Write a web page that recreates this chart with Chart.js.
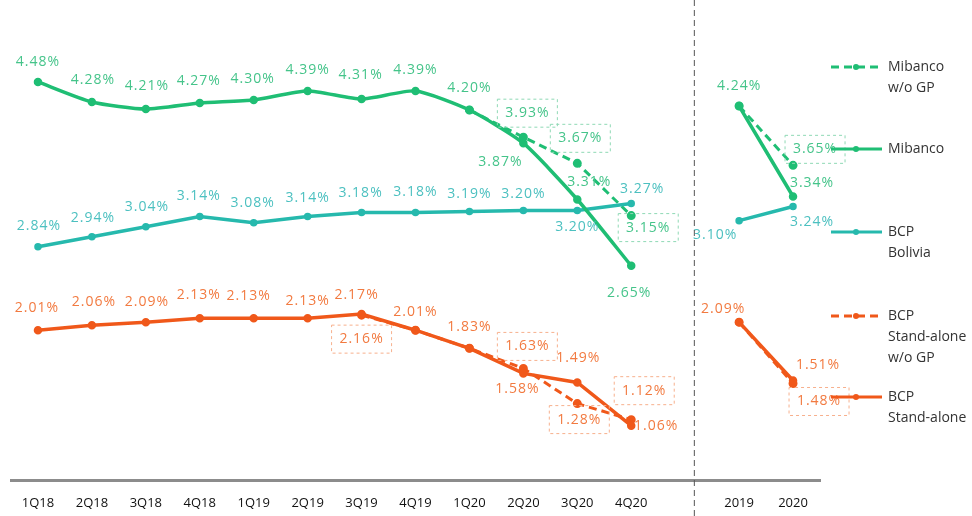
<!DOCTYPE html>
<html>
<head>
<meta charset="utf-8">
<script src="https://cdn.jsdelivr.net/npm/chart.js@4"></script>
<style>
  html, body { margin: 0; background: #fff; }
  #wrap { width: 972px; height: 516px; position: relative; }
</style>
</head>
<body>
<div id="wrap"><canvas id="chart"></canvas></div>
<script>
  // x categories: 12 quarters, a spacer slot, then the two full years
  const categories = ['1Q18', '2Q18', '3Q18', '4Q18', '1Q19', '2Q19', '3Q19', '4Q19', '1Q20', '2Q20', '3Q20', '4Q20', '', '2019', '2020'];

  const mibanco      = [4.48, 4.28, 4.21, 4.27, 4.30, 4.39, 4.31, 4.39, 4.20, 3.87, 3.31, 2.65, null, 4.24, 3.34];
  const mibancoNoGp  = [null, null, null, null, null, null, null, null, 4.20, 3.93, 3.67, 3.15, null, 4.24, 3.65];
  const bcpBolivia   = [2.84, 2.94, 3.04, 3.14, 3.08, 3.14, 3.18, 3.18, 3.19, 3.20, 3.20, 3.27, null, 3.10, 3.24];
  const bcpStand     = [2.01, 2.06, 2.09, 2.13, 2.13, 2.13, 2.17, 2.01, 1.83, 1.58, 1.49, 1.06, null, 2.09, 1.51];
  const bcpStandNoGp = [null, null, null, null, null, null, 2.16, 2.01, 1.83, 1.63, 1.28, 1.12, null, 2.09, 1.48];

  // where each value label sits relative to its point (dx, dy); null = no label
  const mibancoLabelPos = [[0, -20], [1, -22], [1, -23], [-1, -22], [-1, -21], [0, -21], [-1, -24], [0, -21], [0, -22], [-23, 19], [12, -18], [-2, 27], null, [0, -20], [19, -13]];
  const mibancoNoGpLabelPos = [null, null, null, null, null, null, null, null, null, [4, -24], [3, -25], [17, 12], null, null, [22, -16]];
  const boliviaLabelPos = [[1, -21], [1, -19], [1, -20], [-1, -21], [-1, -20], [0, -19], [-1, -20], [0, -21], [0, -18], [0, -17], [0, 16], [11, -15], null, [-24, 14], [19, 15]];
  const standLabelPos = [[-1, -22], [2, -23], [1, -20], [-1, -23], [-5, -22], [0, -17], [-5, -19], [0, -18], [0, -21], [-6, 16], [1, -24], [25, 0], null, [-16, -13], [25, -15]];
  const standNoGpLabelPos = [null, null, null, null, null, null, [0, 24], null, null, [4, -22], [2, 16], [13, -29], null, null, [26, 18]];

  const GREEN = '#1fbe74';
  const TEAL = '#26b9ad';
  const ORANGE = '#f0581a';

  const labelPlugin = {
    id: 'valueLabels',
    afterDatasetsDraw(chart) {
      const ctx = chart.ctx;
      ctx.save();
      ctx.font = '14px "Open Sans"';
      ctx.letterSpacing = '1px';
      ctx.textAlign = 'center';
      ctx.textBaseline = 'middle';
      chart.data.datasets.forEach((ds, i) => {
        const meta = chart.getDatasetMeta(i);
        if (!ds.labelPos) return;
        meta.data.forEach((pt, j) => {
          const o = ds.labelPos[j];
          const v = ds.data[j];
          if (!o || v == null) return;
          const x = pt.x + o[0];
          const y = pt.y + o[1];
          if (ds.boxed) {
            ctx.save();
            ctx.setLineDash([3, 3]);
            ctx.lineWidth = 1;
            ctx.strokeStyle = ds.boxColor;
            ctx.strokeRect(x - 30, y - 14, 60, 28);
            ctx.restore();
          }
          ctx.fillStyle = ds.labelColor;
          ctx.fillText(v.toFixed(2) + '%', x, y);
        });
      });
      ctx.restore();
    }
  };

  const legendItems = [
    { lines: ['Mibanco', 'w/o GP'], color: GREEN, dashed: true, y: 67 },
    { lines: ['Mibanco'], color: GREEN, dashed: false, y: 149 },
    { lines: ['BCP', 'Bolivia'], color: TEAL, dashed: false, y: 232 },
    { lines: ['BCP', 'Stand-alone', 'w/o GP'], color: ORANGE, dashed: true, y: 316 },
    { lines: ['BCP', 'Stand-alone'], color: ORANGE, dashed: false, y: 397 }
  ];

  const sideLegend = {
    id: 'sideLegend',
    afterDraw(chart) {
      const ctx = chart.ctx;
      ctx.save();
      // divider between quarters and years
      const xs = chart.scales.x;
      const dx = xs.getPixelForValue(12) + (xs.getPixelForValue(13) - xs.getPixelForValue(12)) * 0.17;
      ctx.strokeStyle = '#555';
      ctx.lineWidth = 1;
      ctx.setLineDash([6, 4]);
      ctx.beginPath();
      ctx.moveTo(dx, 0);
      ctx.lineTo(dx, 516);
      ctx.stroke();

      legendItems.forEach((item) => {
        ctx.strokeStyle = item.color;
        ctx.lineWidth = 3;
        ctx.setLineDash(item.dashed ? [8, 5] : []);
        ctx.beginPath();
        ctx.moveTo(831, item.y);
        ctx.lineTo(882, item.y);
        ctx.stroke();
        ctx.setLineDash([]);
        ctx.fillStyle = item.color;
        ctx.beginPath();
        ctx.arc(856, item.y, 3, 0, Math.PI * 2);
        ctx.fill();
        ctx.fillStyle = '#333';
        ctx.font = '14px "Open Sans"';
        ctx.textAlign = 'left';
        ctx.textBaseline = 'middle';
        item.lines.forEach((t, k) => ctx.fillText(t, 888, item.y + k * 21));
      });
      ctx.restore();
    }
  };

  new Chart(document.getElementById('chart'), {
    type: 'line',
    data: {
      labels: categories,
      datasets: [
        { label: 'Mibanco w/o GP', data: mibancoNoGp, borderColor: GREEN, backgroundColor: GREEN, borderWidth: 3, borderDash: [8, 5], pointRadius: 3,
          labelPos: mibancoNoGpLabelPos, labelColor: '#45c48a', boxed: true, boxColor: '#8fd9b5', order: 2 },
        { label: 'Mibanco', data: mibanco, borderColor: GREEN, backgroundColor: GREEN, borderWidth: 3.5, pointRadius: 2.5, tension: 0.2,
          labelPos: mibancoLabelPos, labelColor: '#45c48a', order: 1 },
        { label: 'BCP Bolivia', data: bcpBolivia, borderColor: TEAL, backgroundColor: TEAL, borderWidth: 3.5, pointRadius: 2,
          labelPos: boliviaLabelPos, labelColor: '#4cc0c0', order: 1 },
        { label: 'BCP Stand-alone w/o GP', data: bcpStandNoGp, borderColor: ORANGE, backgroundColor: ORANGE, borderWidth: 3, borderDash: [8, 5], pointRadius: 3,
          labelPos: standNoGpLabelPos, labelColor: '#f27a40', boxed: true, boxColor: '#f7b08d', order: 2 },
        { label: 'BCP Stand-alone', data: bcpStand, borderColor: ORANGE, backgroundColor: ORANGE, borderWidth: 3.5, pointRadius: 2.5,
          labelPos: standLabelPos, labelColor: '#f27a40', order: 1 }
      ]
    },
    options: {
      responsive: true,
      maintainAspectRatio: false,
      animation: false,
      spanGaps: false,
      layout: { padding: { left: 11, right: 152, top: 5, bottom: 5 } },
      plugins: { legend: { display: false }, tooltip: { enabled: false } },
      scales: {
        x: {
          offset: true,
          grid: { display: false, drawTicks: false },
          border: { display: true, color: '#8c8c8c', width: 3 },
          ticks: { color: '#111', font: { family: 'Open Sans', size: 13 }, padding: 15, maxRotation: 0, autoSkip: false },
          afterFit(scale) { scale.height = 31; }
        },
        y: { display: false, min: 0.52, max: 5.22 }
      }
    },
    plugins: [labelPlugin, sideLegend]
  });
</script>
</body>
</html>
